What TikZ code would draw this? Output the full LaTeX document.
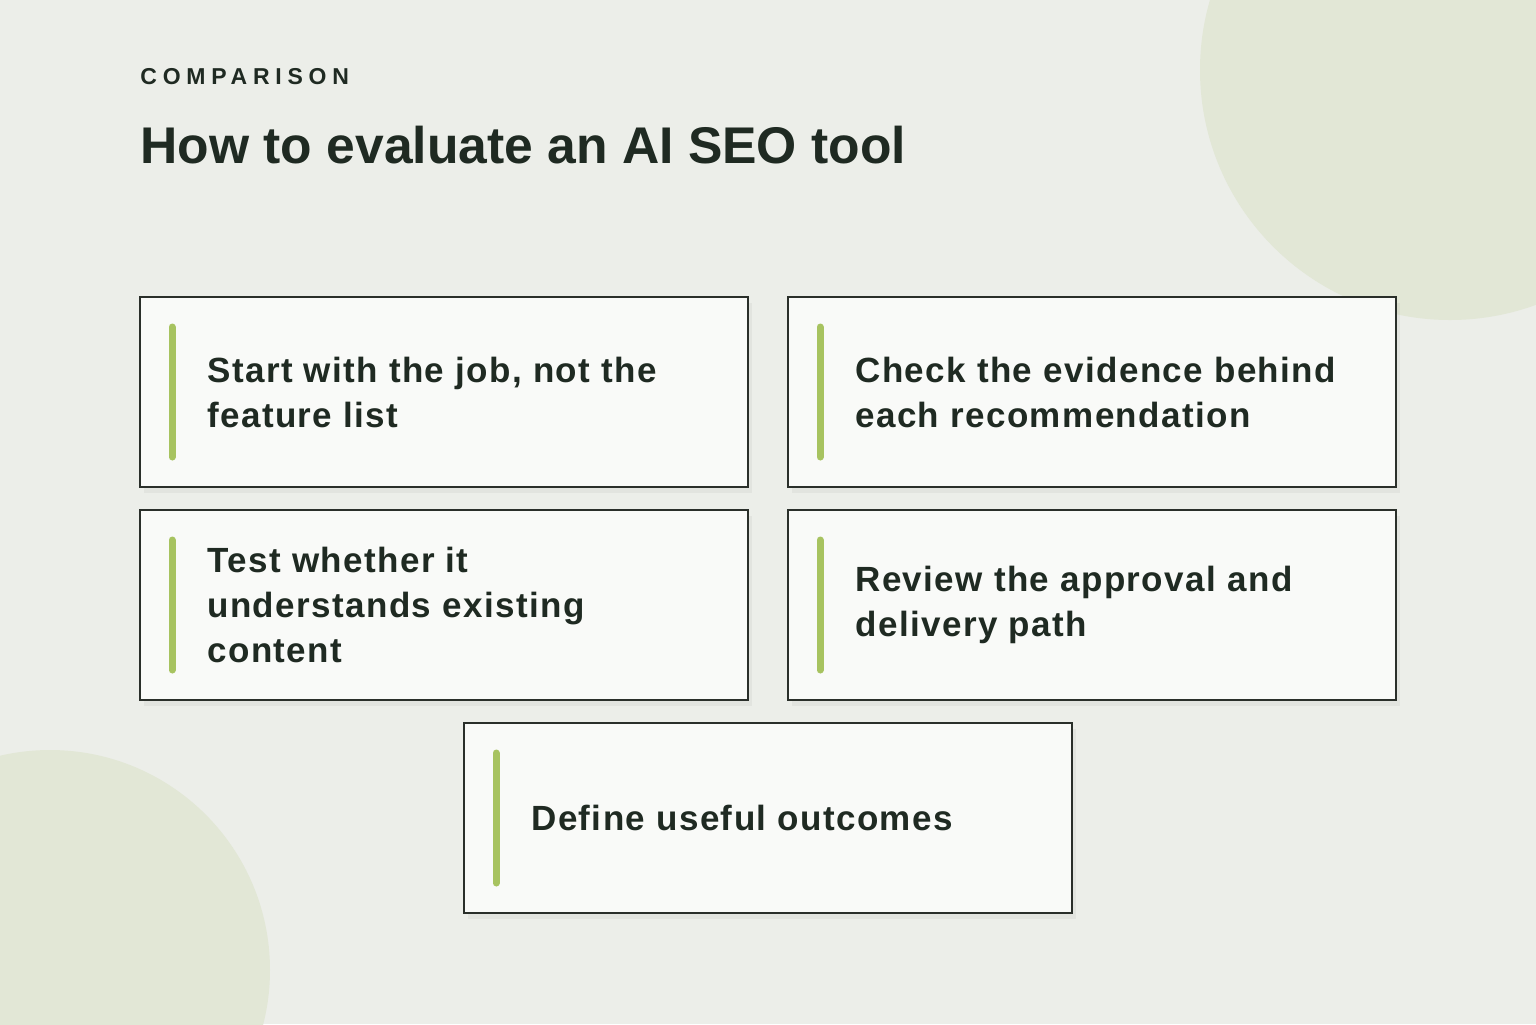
\documentclass[tikz,border=0pt]{standalone}
\usepackage{fontspec}
\setmainfont{Liberation Sans}
\begin{document}
\begin{tikzpicture}[x=0.5pt,y=-0.5pt,
  card/.style={draw=cardline,line width=1pt,fill=cardfill},
  bar/.style={line width=3.5pt,draw=accent,line cap=round},
  txt/.style={anchor=west,align=left,text=ink,font=\fontsize{17.5}{22.5}\selectfont\bfseries\addfontfeature{LetterSpace=4},inner sep=0pt}]
\definecolor{bg}{HTML}{ECEEE9}
\definecolor{blob}{HTML}{E2E7D6}
\definecolor{cardfill}{HTML}{F9FAF8}
\definecolor{cardline}{HTML}{2A2F2A}
\definecolor{accent}{HTML}{A7C360}
\definecolor{ink}{HTML}{1F2A22}
\fill[bg] (0,0) rectangle (1536,1024);
\useasboundingbox (0,0) rectangle (1536,1024);
\begin{scope}
\clip (0,0) rectangle (1536,1024);
\fill[blob] (1450,70) circle[radius=250];
\fill[blob] (50,970) circle[radius=220];
\end{scope}
\node[anchor=west,inner sep=0pt,text=ink,font=\fontsize{11.5}{14}\selectfont\bfseries\addfontfeature{LetterSpace=25}] (kicker) at (140,77) {COMPARISON};
\node[anchor=west,inner sep=0pt,text=ink,font=\fontsize{25.8}{30}\selectfont\bfseries] (title) at (140,145) {How to evaluate an AI SEO tool};
\foreach \n/\x/\y/\t in {a/140/297/{Start with the job, not the\\feature list},
  b/788/297/{Check the evidence behind\\each recommendation},
  c/140/510/{Test whether it\\understands existing\\content},
  d/788/510/{Review the approval and\\delivery path},
  e/464/723/{Define useful outcomes}}{
  \fill[black,opacity=0.04] (\x+4,\y+6) rectangle ++(608,190);
  \draw[card] (\x,\y) rectangle ++(608,190);
  \draw[bar] (\x+32,\y+30) -- ++(0,130);
  \node[txt] (\n) at (\x+67,\y+95) {\t};
}
\end{tikzpicture}
\end{document}
